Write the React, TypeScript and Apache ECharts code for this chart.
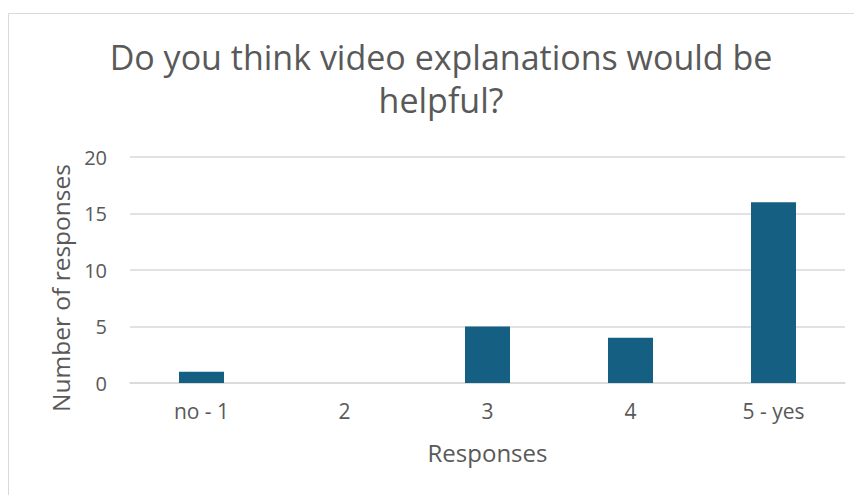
import React, { useEffect, useRef } from "react";
import * as echarts from "echarts";

const categories = ["no - 1", "2", "3", "4", "5 - yes"];
const responses = [1, 0, 5, 4, 16];
const titleLines = ["Do you think video explanations would be", "helpful?"];
const yAxisName = "Number of responses";
const xAxisName = "Responses";
const yTicks = { min: 0, max: 20, interval: 5 };

export default function App() {
  const ref = useRef<HTMLDivElement>(null);
  useEffect(() => {
    if (!ref.current) return;
    const chart = echarts.init(ref.current, null, { renderer: "svg" });
    const textColor = "#595959";
    const font = "'Open Sans', Roboto, sans-serif";
    chart.setOption({
      animation: false,
      backgroundColor: "#ffffff",
      grid: { left: 122, right: 17, top: 149, bottom: 112, containLabel: false },
      graphic: [
        {
          type: "rect",
          shape: { x: 0.5, y: 5.5, width: 1000, height: 1000 },
          style: { fill: "none", stroke: "#d9d9d9", lineWidth: 1 },
          silent: true,
          z: -10,
        },
        ...titleLines.map((t, i) => ({
          type: "text",
          x: 433,
          y: 49 + i * 43,
          style: {
            text: t,
            fill: textColor,
            font: `34px ${font}`,
            textAlign: "center",
            textVerticalAlign: "middle",
          },
        })),
        {
          type: "text",
          x: 52,
          y: 280,
          rotation: Math.PI / 2,
          style: {
            text: yAxisName,
            fill: textColor,
            font: `24.5px ${font}`,
            textAlign: "center",
            textVerticalAlign: "middle",
          },
        },
      ],
      xAxis: {
        type: "category",
        data: categories,
        name: xAxisName,
        nameLocation: "middle",
        nameGap: 57,
        nameTextStyle: { color: textColor, fontSize: 24, fontFamily: font },
        axisLine: { show: true, lineStyle: { color: "#d9d9d9", width: 1.5 } },
        axisTick: { show: false },
        axisLabel: { color: textColor, fontSize: 21, fontFamily: font, margin: 17 },
      },
      yAxis: {
        type: "value",
        min: yTicks.min,
        max: yTicks.max,
        interval: yTicks.interval,
        axisLine: { show: false },
        axisTick: { show: false },
        axisLabel: { color: textColor, fontSize: 20, fontFamily: font, margin: 23 },
        splitLine: { lineStyle: { color: "#d9d9d9", width: 1.5 } },
      },
      series: [
        {
          type: "bar",
          data: responses,
          barWidth: 45,
          itemStyle: { color: "#156082" },
        },
      ],
    });
    return () => chart.dispose();
  }, []);
  return <div ref={ref} style={{ width: 854, height: 487 }} />;
}
